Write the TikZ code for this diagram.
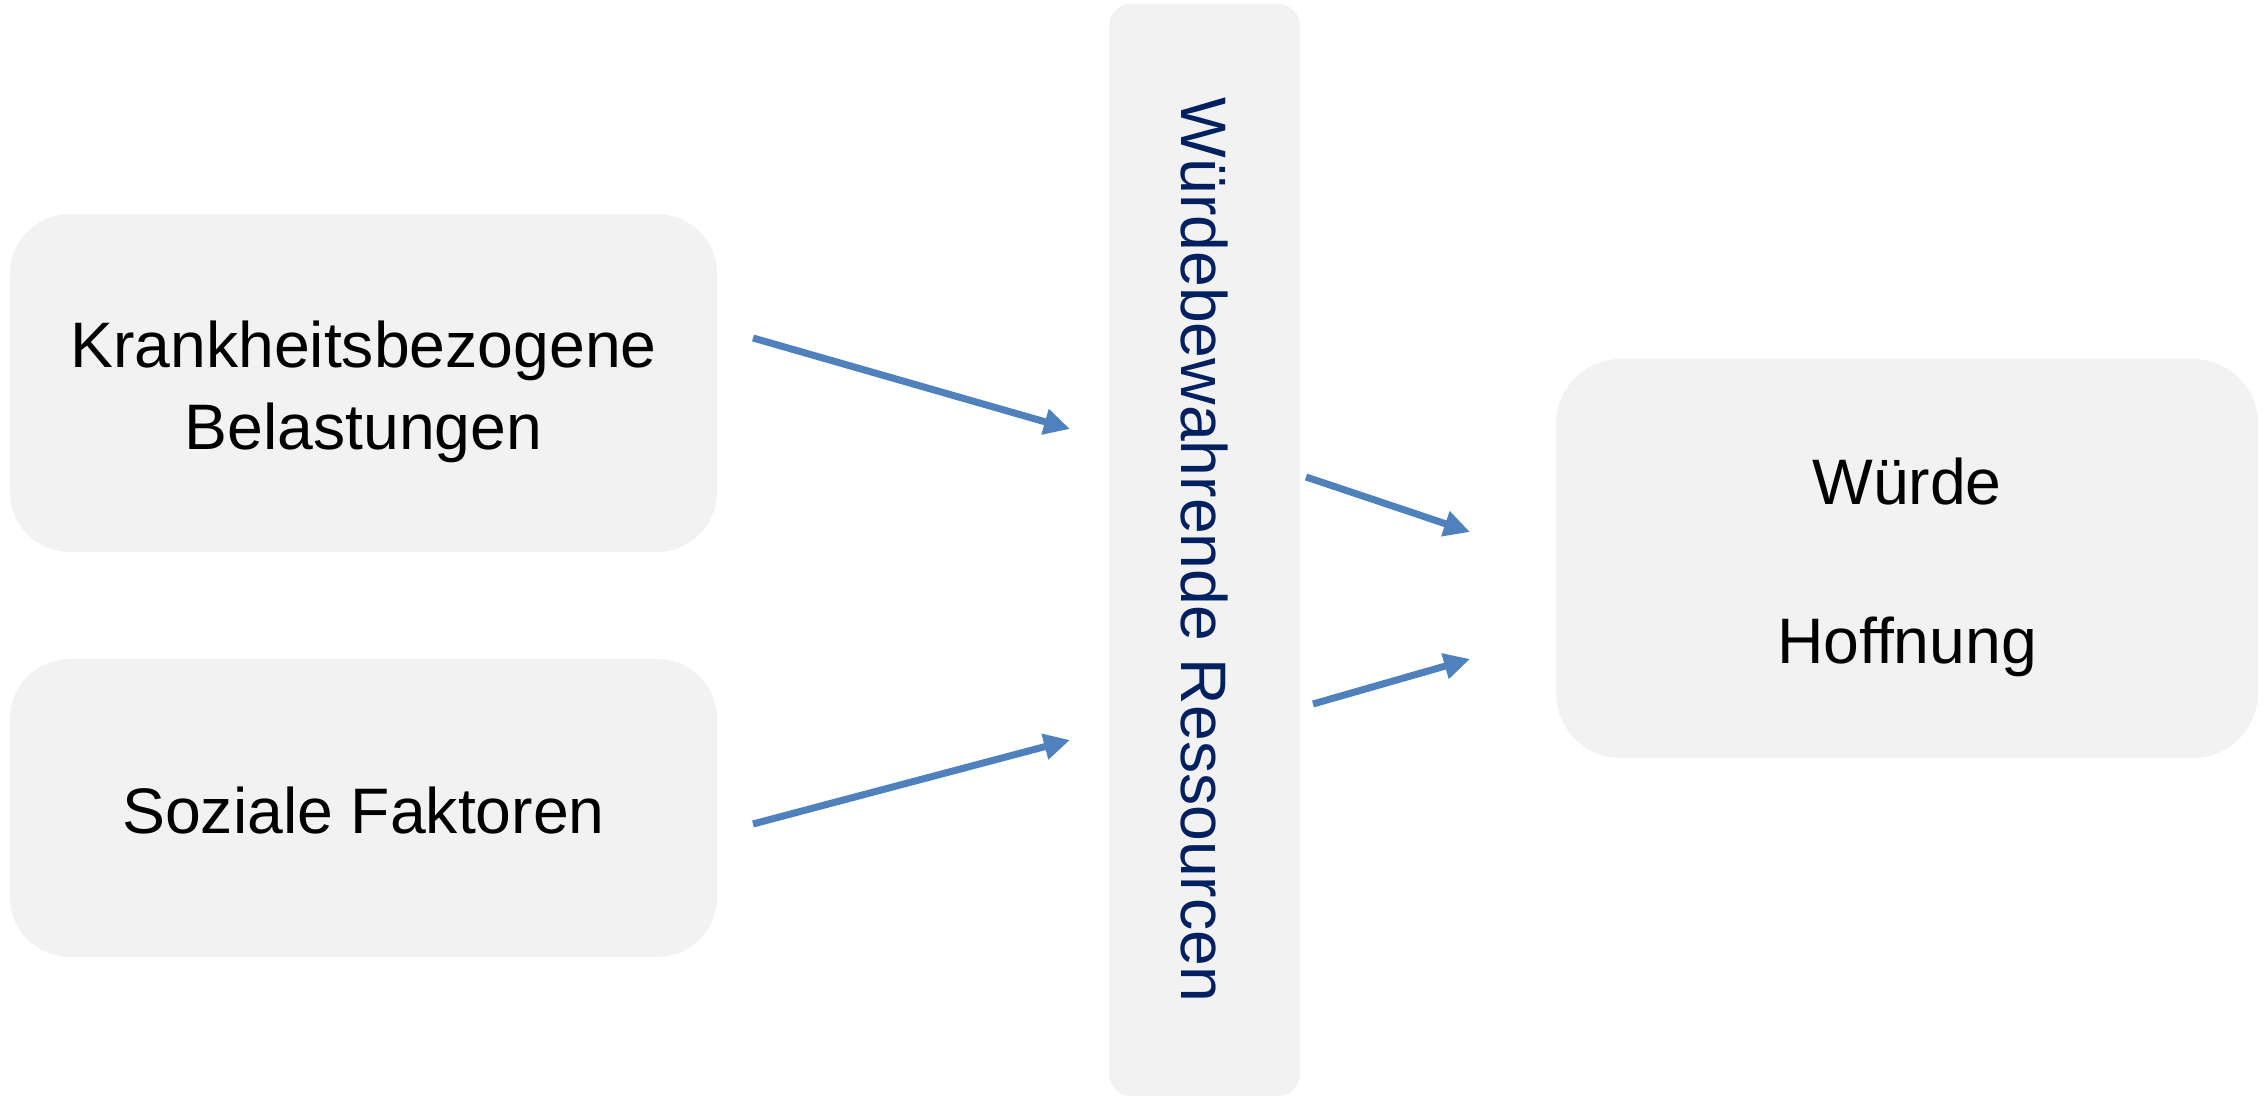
\documentclass[tikz,border=0pt]{standalone}
\usepackage{fontspec}
\setmainfont{Liberation Sans}
\usetikzlibrary{positioning, arrows.meta}

\definecolor{boxgray}{HTML}{F2F2F2}
\definecolor{arrowblue}{HTML}{4F81BD}
\definecolor{navy}{HTML}{002060}
% line strut, like the line boxes of a slide
\newcommand{\lstrut}{\rule[-0.21em]{0pt}{1.21em}}

\begin{document}
\begin{tikzpicture}[every node/.style={font=\fontsize{18.3}{21.9}\selectfont, align=center},
	box/.style={fill=boxgray, rounded corners=0.6cm, inner sep=0pt},
	flow/.style={draw=arrowblue, line width=2pt, -{Triangle[length=0.26cm, width=0.25cm]}}]
		\useasboundingbox (0,0) rectangle (22.67,10.98);

		% Boxes on the left
		\node[box, minimum width=7.07cm, minimum height=3.38cm] (krank) at (3.635,7.15) {\lstrut Krankheitsbezogene\\Belastungen\lstrut};
		\node[box, minimum width=7.07cm, minimum height=2.98cm] (sozial) at (3.635,2.90) {\lstrut Soziale Faktoren};

		% Middle column, text runs downwards
		\node[box, rounded corners=0.22cm, rotate=-90, minimum width=10.92cm, minimum height=1.91cm, text=navy] (ress) at (12.045,5.48) {Würdebewahrende Ressourcen};

		% Box on the right
		\node[box, rounded corners=0.65cm, minimum width=7.02cm, minimum height=3.99cm] (wuerde) at (19.07,5.395) {\lstrut Würde\\[\baselineskip]Hoffnung\lstrut};

		% Arrow ends
		\coordinate (k-out) at (7.53,7.60);
		\coordinate (k-in) at (10.70,6.69);
		\coordinate (s-out) at (7.53,2.74);
		\coordinate (s-in) at (10.70,3.58);
		\coordinate (r-out1) at (13.06,6.21);
		\coordinate (w-in1) at (14.70,5.66);
		\coordinate (r-out2) at (13.13,3.94);
		\coordinate (w-in2) at (14.70,4.39);

		% Arrows
		\draw[flow] (k-out) -- (k-in);
		\draw[flow] (s-out) -- (s-in);
		\draw[flow] (r-out1) -- (w-in1);
		\draw[flow] (r-out2) -- (w-in2);
	\end{tikzpicture}
\end{document}
